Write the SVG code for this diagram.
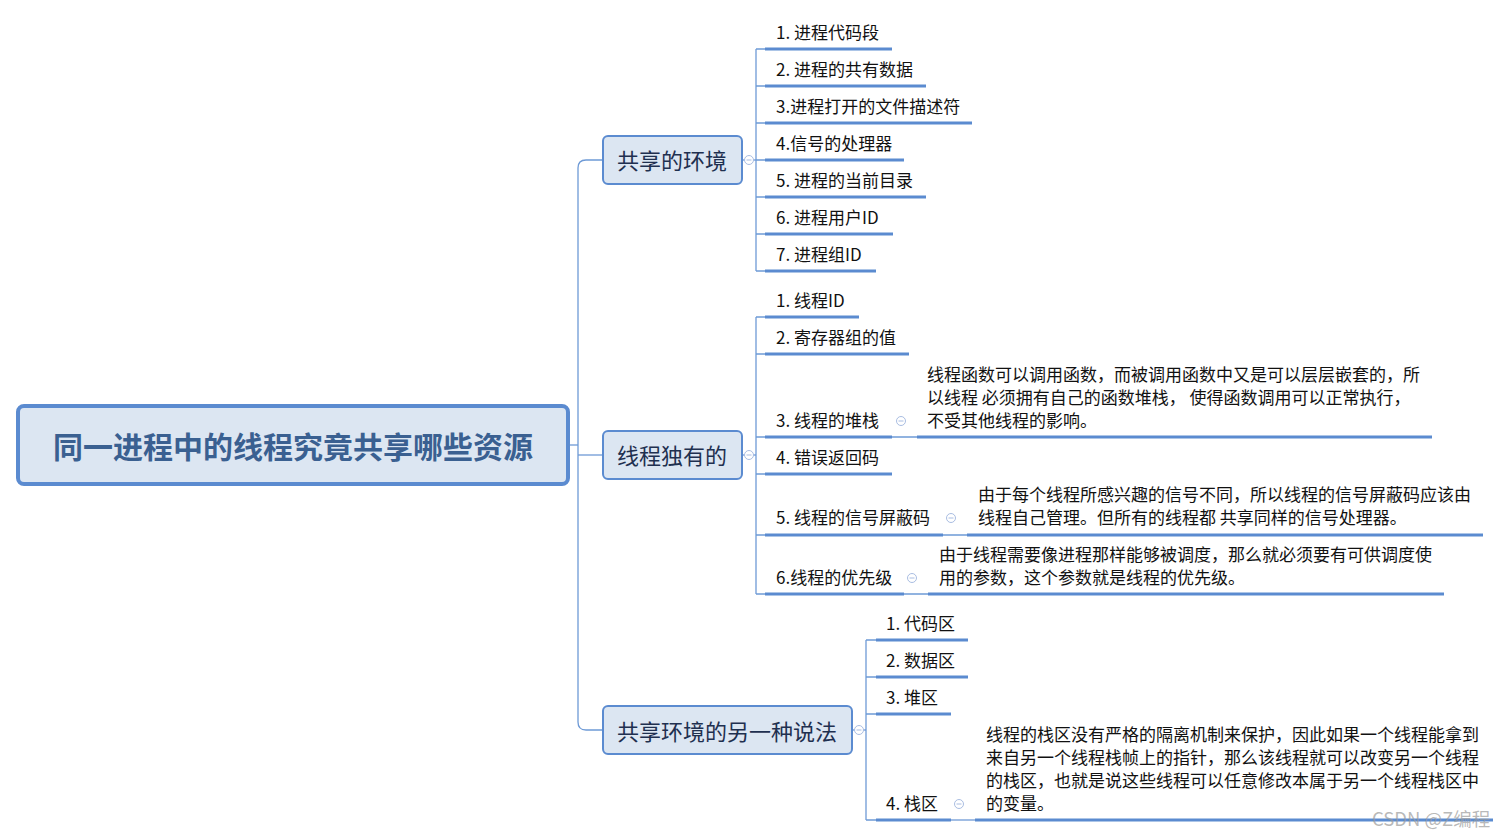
<svg xmlns="http://www.w3.org/2000/svg" width="1509" height="837" viewBox="0 0 1509 837">
<style>
.root{fill:#DCE6F2;stroke:#5B8BD0;stroke-width:4}
.rt{font-family:"Noto Sans CJK SC","Liberation Sans",sans-serif;font-size:30px;font-weight:bold;fill:#3A6091;text-anchor:middle}
.l1{fill:#DCE6F2;stroke:#5B8BD0;stroke-width:2}
.l1t{font-family:"Noto Sans CJK SC","Liberation Sans",sans-serif;font-size:22px;fill:#1F3050;text-anchor:middle}
.t{font-family:"Noto Sans CJK SC","Liberation Sans",sans-serif;font-size:17px;fill:#111}
.ul{stroke:#5B8BD0;stroke-width:3;fill:none}
.c{stroke:#6E9AD6;stroke-width:1.3;fill:none}
.col{fill:#fff;stroke:#A9BDE2;stroke-width:1}
.colm{stroke:#A9BDE2;stroke-width:1}
.wm{font-family:"Noto Sans CJK SC","Liberation Sans",sans-serif;font-size:18.5px;fill:#9a9a9a;fill-opacity:0.7}
</style>
<defs>
<g id="colbtn"><circle r="4.5" class="col"/><line x1="-2.5" y1="0" x2="2.5" y2="0" class="colm"/></g>
</defs>

<g id="connectors">
<path class="c" d="M568 445 H578"/>
<path class="c" d="M603 160 H586 Q578 160 578 168 V722 Q578 730 586 730 H603"/>
<path class="c" d="M578 455 H603"/>
<!-- group 1 -->
<path class="c" d="M742 160 H756"/>
<path class="c" d="M756 49 V271"/>
<path class="c" d="M756 49 H766 M756 86 H766 M756 123 H766 M756 160 H766 M756 197 H766 M756 234 H766 M756 271 H766"/>
<!-- group 2 -->
<path class="c" d="M742 455 H756"/>
<path class="c" d="M756 317 V594"/>
<path class="c" d="M756 317 H766 M756 354 H766 M756 437 H766 M756 474 H766 M756 535 H766 M756 594 H766"/>
<path class="c" d="M892 437 H917 M943 535 H967 M904 594 H928"/>
<!-- group 3 -->
<path class="c" d="M852 730 H866"/>
<path class="c" d="M866 640 V820"/>
<path class="c" d="M866 640 H876 M866 677 H876 M866 714 H876 M866 820 H876"/>
<path class="c" d="M951 820 H975"/>
</g>

<g id="root">
<rect class="root" x="18" y="406" width="550" height="78" rx="6"/>
<text class="rt" x="293" y="458">同一进程中的线程究竟共享哪些资源</text>
</g>

<g id="n-shared-env">
<rect class="l1" x="603" y="136" width="139" height="48" rx="5"/>
<text class="l1t" x="672" y="169">共享的环境</text>
<use href="#colbtn" x="749" y="160"/>
</g>
<g id="n-thread-own">
<rect class="l1" x="603" y="431" width="139" height="48" rx="5"/>
<text class="l1t" x="672" y="464">线程独有的</text>
<use href="#colbtn" x="749" y="455"/>
</g>
<g id="n-alt">
<rect class="l1" x="603" y="706" width="249" height="48" rx="5"/>
<text class="l1t" x="727" y="740">共享环境的另一种说法</text>
<use href="#colbtn" x="859" y="730"/>
</g>

<g id="g1-1"><text class="t" x="776" y="39">1. 进程代码段</text><path class="ul" d="M765 49 H892"/></g>
<g id="g1-2"><text class="t" x="776" y="76">2. 进程的共有数据</text><path class="ul" d="M765 86 H926"/></g>
<g id="g1-3"><text class="t" x="776" y="113">3.进程打开的文件描述符</text><path class="ul" d="M765 123 H972"/></g>
<g id="g1-4"><text class="t" x="776" y="150">4.信号的处理器</text><path class="ul" d="M765 160 H904"/></g>
<g id="g1-5"><text class="t" x="776" y="187">5. 进程的当前目录</text><path class="ul" d="M765 197 H926"/></g>
<g id="g1-6"><text class="t" x="776" y="224">6. 进程用户ID</text><path class="ul" d="M765 234 H893"/></g>
<g id="g1-7"><text class="t" x="776" y="261">7. 进程组ID</text><path class="ul" d="M765 271 H876"/></g>

<g id="g2-1"><text class="t" x="776" y="307">1. 线程ID</text><path class="ul" d="M765 317 H859"/></g>
<g id="g2-2"><text class="t" x="776" y="344">2. 寄存器组的值</text><path class="ul" d="M765 354 H909"/></g>
<g id="g2-3"><text class="t" x="776" y="427">3. 线程的堆栈</text><path class="ul" d="M765 437 H892"/><use href="#colbtn" x="901" y="421"/></g>
<g id="g2-3d">
<text class="t" x="927" y="381">线程函数可以调用函数，而被调用函数中又是可以层层嵌套的，所</text>
<text class="t" x="927" y="404">以线程 必须拥有自己的函数堆栈，  使得函数调用可以正常执行，</text>
<text class="t" x="927" y="427">不受其他线程的影响。</text>
<path class="ul" d="M917 437 H1432"/>
</g>
<g id="g2-4"><text class="t" x="776" y="464">4. 错误返回码</text><path class="ul" d="M765 474 H892"/></g>
<g id="g2-5"><text class="t" x="776" y="524">5. 线程的信号屏蔽码</text><path class="ul" d="M765 535 H943"/><use href="#colbtn" x="951" y="518"/></g>
<g id="g2-5d">
<text class="t" x="978" y="501">由于每个线程所感兴趣的信号不同，所以线程的信号屏蔽码应该由</text>
<text class="t" x="978" y="524">线程自己管理。但所有的线程都 共享同样的信号处理器。</text>
<path class="ul" d="M967 535 H1483"/>
</g>
<g id="g2-6"><text class="t" x="776" y="584">6.线程的优先级</text><path class="ul" d="M765 594 H904"/><use href="#colbtn" x="912" y="578"/></g>
<g id="g2-6d">
<text class="t" x="939" y="561">由于线程需要像进程那样能够被调度，那么就必须要有可供调度使</text>
<text class="t" x="939" y="584">用的参数，这个参数就是线程的优先级。</text>
<path class="ul" d="M928 594 H1444"/>
</g>

<g id="g3-1"><text class="t" x="886" y="630">1. 代码区</text><path class="ul" d="M876 640 H968"/></g>
<g id="g3-2"><text class="t" x="886" y="667">2. 数据区</text><path class="ul" d="M876 677 H968"/></g>
<g id="g3-3"><text class="t" x="886" y="704">3. 堆区</text><path class="ul" d="M876 714 H951"/></g>
<g id="g3-4"><text class="t" x="886" y="810">4. 栈区</text><path class="ul" d="M876 820 H951"/><use href="#colbtn" x="959" y="804"/></g>
<g id="g3-4d">
<text class="t" x="986" y="741">线程的栈区没有严格的隔离机制来保护，因此如果一个线程能拿到</text>
<text class="t" x="986" y="764">来自另一个线程栈帧上的指针，那么该线程就可以改变另一个线程</text>
<text class="t" x="986" y="787">的栈区，也就是说这些线程可以任意修改本属于另一个线程栈区中</text>
<text class="t" x="986" y="810">的变量。</text>
<path class="ul" d="M975 820 H1493"/>
</g>

<text class="wm" x="1372" y="826">CSDN @Z编程</text>
</svg>
